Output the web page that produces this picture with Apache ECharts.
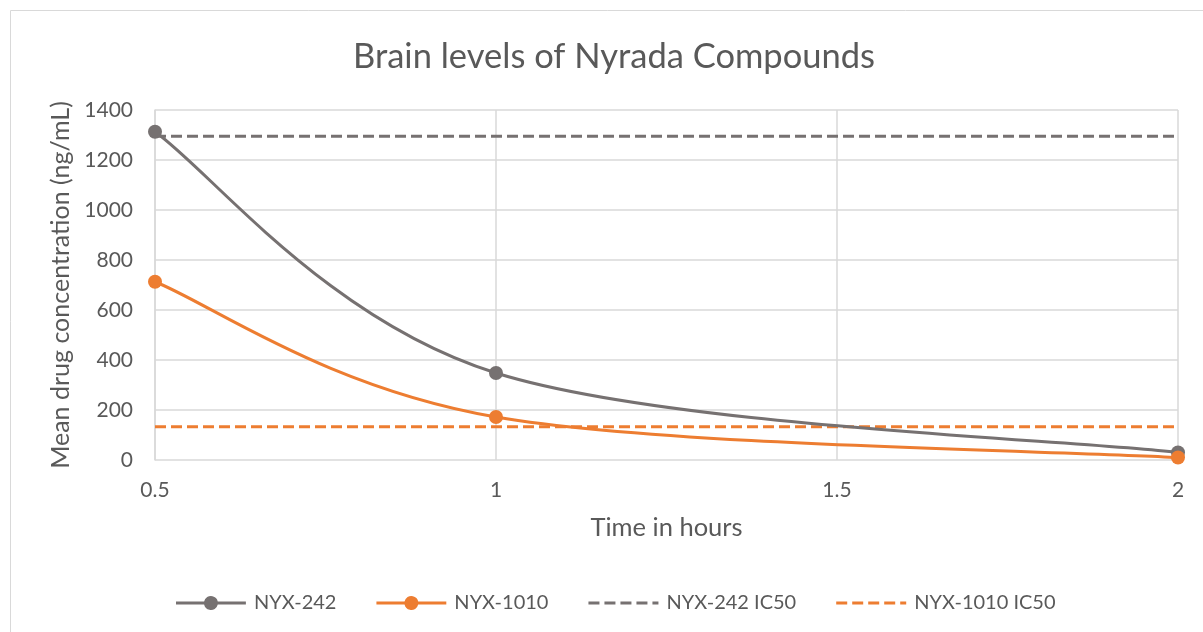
<!DOCTYPE html>
<html><head><meta charset="utf-8">
<script src="https://cdn.jsdelivr.net/npm/echarts@6/dist/echarts.min.js"></script>
<style>html,body{margin:0;padding:0;background:#fff}#c{width:1203px;height:632px}</style>
</head><body><div id="c"></div>
<script>
const times = [0.5, 1, 2];
const nyx242 = [1313, 348, 30];
const nyx1010 = [713, 172, 10];
const ic50Times = [0.5, 2];
const nyx242IC50 = [1295, 1295];
const nyx1010IC50 = [133, 133];
const seriesNames = ['NYX-242', 'NYX-1010', 'NYX-242 IC50', 'NYX-1010 IC50'];
const yTicks = [0, 200, 400, 600, 800, 1000, 1200, 1400];
const xTicks = [0.5, 1, 1.5, 2];

const pairs = (xs, ys) => xs.map((x, i) => [x, ys[i]]);
const gray = '#767171', orange = '#ED7D31', txt = '#595959';
const font = 'Lato, Calibri, "Open Sans", sans-serif';

// Excel-like spline (Catmull-Rom converted to cubic Bezier) drawn in pixel space from axis coords
function splineRenderer(xs, ys, color) {
  return function (params, api) {
    const pts = xs.map((x, i) => api.coord([x, ys[i]]));
    const children = [];
    if (params.dataIndex === 0) {
      const n = pts.length;
      for (let i = 0; i < n - 1; i++) {
        const p0 = pts[Math.max(i - 1, 0)], p1 = pts[i], p2 = pts[i + 1], p3 = pts[Math.min(i + 2, n - 1)];
        children.push({
          type: 'bezierCurve',
          shape: {
            x1: p1[0], y1: p1[1], x2: p2[0], y2: p2[1],
            cpx1: p1[0] + (p2[0] - p0[0]) / 6, cpy1: p1[1] + (p2[1] - p0[1]) / 6,
            cpx2: p2[0] - (p3[0] - p1[0]) / 6, cpy2: p2[1] - (p3[1] - p1[1]) / 6
          },
          style: { stroke: color, lineWidth: 3, fill: 'none', lineCap: 'round' },
          z2: 1
        });
      }
    }
    const c = pts[params.dataIndex];
    children.push({ type: 'circle', shape: { cx: c[0], cy: c[1], r: 7 }, style: { fill: color }, z2: 10 });
    return { type: 'group', children };
  };
}

const tiny = 'M0,0h0.01v0.01h-0.01z M70,13.99h0.01v0.01h-0.01z ';
const lineIcon = 'path://' + tiny + 'M0,5.5H28.16A7,7 0 0 1 41.84,5.5H70V8.5H41.84A7,7 0 0 1 28.16,8.5H0Z';
const dashIcon = 'path://' + tiny + 'M0,5.5h11v3h-11z M16,5.5h11v3h-11z M32,5.5h11v3h-11z M48,5.5h11v3h-11z M64,5.5h6v3h-6z';
const legendColors = [gray, orange, gray, orange];
const legendIcons = [lineIcon, lineIcon, dashIcon, dashIcon];

const chart = echarts.init(document.getElementById('c'));
chart.setOption({
  animation: false,
  textStyle: { fontFamily: font },
  graphic: [{ type: 'rect', shape: { x: 10.5, y: 10.5, width: 1200, height: 640 },
    style: { fill: 'none', stroke: '#d9d9d9', lineWidth: 1 }, z: -1 }],
  title: { text: 'Brain levels of Nyrada Compounds', top: 34, left: 609, textAlign: 'center',
    textStyle: { fontSize: 34.5, fontWeight: 'normal', color: txt, fontFamily: font } },
  grid: { left: 155, right: 25, top: 110, bottom: 172 },
  legend: {
    top: 588, left: 171, itemGap: 40, itemWidth: 70, itemHeight: 14,
    textStyle: { fontSize: 20, color: txt, fontFamily: font, padding: [0, 0, 0, 3] },
    data: seriesNames.map((n, i) => ({ name: n, icon: legendIcons[i],
      itemStyle: { color: legendColors[i], borderWidth: 0 } }))
  },
  xAxis: {
    type: 'value', min: 0.5, max: 2, interval: 0.5,
    name: 'Time in hours', nameLocation: 'middle', nameGap: 55,
    nameTextStyle: { fontSize: 25.5, color: txt },
    axisLine: { show: false }, axisTick: { show: false },
    axisLabel: { fontSize: 21, color: txt, margin: 20, formatter: v => String(v) },
    splitLine: { show: true, lineStyle: { color: '#d9d9d9', width: 1.5 } }
  },
  yAxis: {
    type: 'value', min: 0, max: 1400, interval: 200,
    name: 'Mean drug concentration (ng/mL)', nameLocation: 'middle', nameGap: 79,
    nameTextStyle: { fontSize: 25, color: txt },
    axisLine: { show: true, lineStyle: { color: '#d9d9d9', width: 1.5 } }, axisTick: { show: false },
    axisLabel: { fontSize: 21, color: txt, margin: 22, formatter: v => String(v) },
    splitLine: { lineStyle: { color: '#d9d9d9', width: 1.5 } }
  },
  series: [
    { name: seriesNames[2], type: 'line', data: pairs(ic50Times, nyx242IC50), symbol: 'none',
      itemStyle: { color: gray }, lineStyle: { color: gray, width: 3, type: [11, 5] }, z: 2 },
    { name: seriesNames[3], type: 'line', data: pairs(ic50Times, nyx1010IC50), symbol: 'none',
      itemStyle: { color: orange }, lineStyle: { color: orange, width: 3, type: [11, 5] }, z: 2 },
    { name: seriesNames[0], type: 'custom', data: pairs(times, nyx242), encode: { x: 0, y: 1 },
      itemStyle: { color: gray }, renderItem: splineRenderer(times, nyx242, gray), z: 3 },
    { name: seriesNames[1], type: 'custom', data: pairs(times, nyx1010), encode: { x: 0, y: 1 },
      itemStyle: { color: orange }, renderItem: splineRenderer(times, nyx1010, orange), z: 4 }
  ]
});
</script></body></html>
